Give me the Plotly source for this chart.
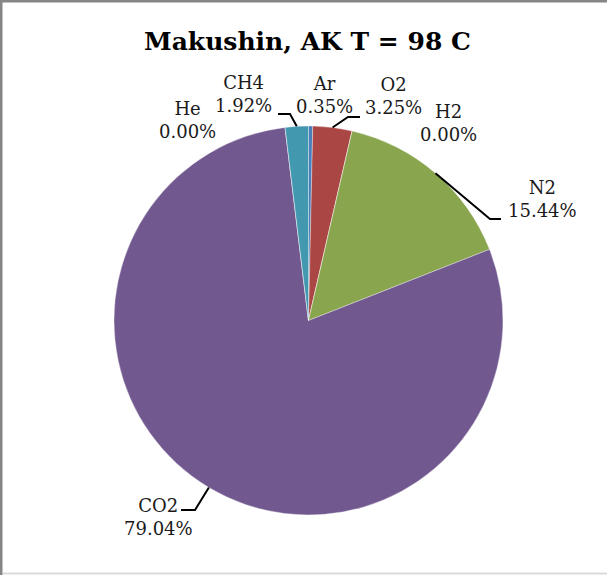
import math
import plotly.graph_objects as go

# ---- data ----
gases = ["Ar", "O2", "H2", "N2", "CO2", "He", "CH4"]
percent = [0.35, 3.25, 0.00, 15.44, 79.04, 0.00, 1.92]
colors = ["#4A7EBB", "#AA4643", "#F79646", "#89A54E", "#71588F", "#4BACC6", "#4198AF"]
title_text = "Makushin, AK T = 98 C"

W, H = 607, 575
CX, CY, R = 308.5, 320.5, 194.5  # pie centre / radius in pixels


def px(x):
    return x / W


def py(y):
    return 1 - y / H


fig = go.Figure(go.Pie(
    labels=gases,
    values=percent,
    sort=False,
    direction="clockwise",
    rotation=0,
    marker=dict(colors=colors, line=dict(color="rgba(255,255,255,0.6)", width=0.6)),
    textinfo="none",
    hoverinfo="label+percent",
    showlegend=False,
    domain=dict(x=[px(CX - R), px(CX + R)], y=[py(CY + R), py(CY - R)]),
))

# label placement (pixel centres of the two text lines) and leader-line elbows
label_pos = {
    "Ar": (324, 95, None),
    "O2": (393, 96, [(348, 117), (360, 117)]),
    "H2": (448, 123, None),
    "N2": (542, 199, [(490, 219), (501, 219)]),
    "CO2": (158, 517, [(195, 510), (181, 510)]),
    "He": (187, 120, None),
    "CH4": (243, 94, [(290, 114), (278, 114)]),
}

font_lbl = dict(family="DejaVu Serif", size=18, color="#1a1a1a")
total = sum(percent)
cum = 0.0
annotations = []
shapes = []
for g, v in zip(gases, percent):
    mid = (cum + v / 2) / total * 2 * math.pi
    cum += v
    lx, ly, elbow = label_pos[g]
    annotations.append(dict(
        x=px(lx), y=py(ly), xref="paper", yref="paper",
        text=f"{g}<br>{v:.2f}%", showarrow=False, align="center",
        font=font_lbl, xanchor="center", yanchor="middle",
    ))
    if elbow:
        ex = CX + R * math.sin(mid)
        ey = CY - R * math.cos(mid)
        pts = [(ex, ey)] + elbow
        path = "M " + " L ".join(f"{px(a)},{py(b)}" for a, b in pts)
        shapes.append(dict(type="path", xref="paper", yref="paper", path=path,
                           line=dict(color="black", width=2)))

# frame edges (top/left dark, bottom light)
shapes += [
    dict(type="line", xref="paper", yref="paper", x0=0, x1=1, y0=py(1), y1=py(1),
         line=dict(color="#858585", width=3)),
    dict(type="line", xref="paper", yref="paper", x0=px(1), x1=px(1), y0=0, y1=1,
         line=dict(color="#858585", width=3)),
    dict(type="line", xref="paper", yref="paper", x0=px(3), x1=1, y0=py(573.5), y1=py(573.5),
         line=dict(color="#d9d9d9", width=2)),
]

annotations.append(dict(
    x=px(307.5), y=py(42), xref="paper", yref="paper", text=f"<b>{title_text}</b>",
    showarrow=False, xanchor="center", yanchor="middle",
    font=dict(family="DejaVu Serif", size=25, color="black"),
))

fig.update_layout(
    width=W, height=H,
    margin=dict(l=0, r=0, t=0, b=0),
    paper_bgcolor="white", plot_bgcolor="white",
    annotations=annotations, shapes=shapes,
)

fig.write_html(
    "out.html",
    config={"displayModeBar": False},
    post_script="document.body.style.margin='0';document.body.style.overflow='hidden';",
)
